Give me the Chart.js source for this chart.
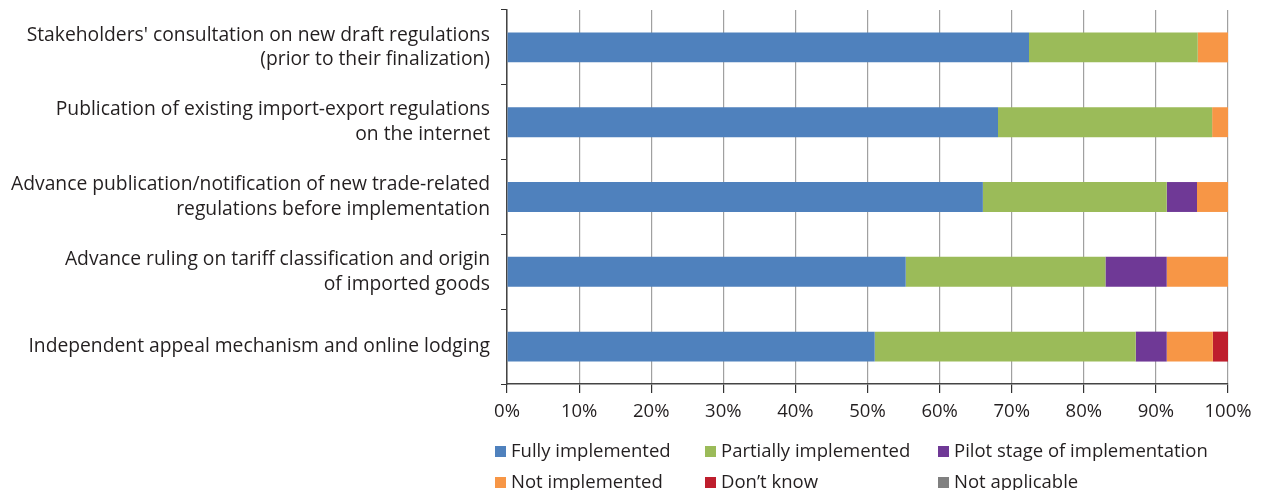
<!DOCTYPE html>
<html>
<head>
<meta charset="utf-8">
<script src="https://cdn.jsdelivr.net/npm/chart.js@4.4.1/dist/chart.umd.min.js"></script>
<style>
    html, body { margin: 0; padding: 0; background: #fff; }
    #wrap { position: relative; width: 1265px; height: 490px; }
    #legend { position: absolute; left: 0; top: 0; width: 1265px; height: 490px; pointer-events: none;
              font-family: "Open Sans", sans-serif; font-size: 18.5px; color: #231f20; }
    .item { position: absolute; white-space: nowrap; line-height: 20px; }
    .box { display: inline-block; width: 11px; height: 11px; margin-right: 5px; vertical-align: 0px; }
</style>
</head>
<body>
<div id="wrap">
    <canvas id="chart" width="1265" height="490"></canvas>
    <div id="legend"></div>
</div>
<script>
const categories = [
    ["Stakeholders' consultation on new draft regulations", "(prior to their finalization)"],
    ["Publication of existing import-export regulations", "on the internet"],
    ["Advance publication/notification of new trade-related", "regulations before implementation"],
    ["Advance ruling on tariff classification and origin", "of imported goods"],
    ["Independent appeal mechanism and online lodging"]
];

const seriesNames = ["Fully implemented", "Partially implemented", "Pilot stage of implementation",
                     "Not implemented", "Don\u2019t know", "Not applicable"];
const seriesColors = ["#4f81bd", "#9bbb59", "#6f3996", "#f79646", "#be1e2d", "#808080"];

const fullyImplemented     = [72.4, 68.1, 66.0, 55.3, 51.0];
const partiallyImplemented = [23.4, 29.7, 25.5, 27.7, 36.2];
const pilotStage           = [0,    0,    4.2,  8.5,  4.3];
const notImplemented       = [4.2,  2.2,  4.3,  8.5,  6.4];
const dontKnow             = [0,    0,    0,    0,    2.1];
const notApplicable        = [0,    0,    0,    0,    0];

const xTicks = [0, 10, 20, 30, 40, 50, 60, 70, 80, 90, 100];

const seriesData = [fullyImplemented, partiallyImplemented, pilotStage, notImplemented, dontKnow, notApplicable];

const FONT = '"Open Sans", sans-serif';

new Chart(document.getElementById("chart"), {
    type: 'bar',
    data: {
        labels: categories,
        datasets: seriesNames.map((name, i) => ({
            label: name,
            data: seriesData[i],
            backgroundColor: seriesColors[i],
            borderWidth: 0,
            categoryPercentage: 0.8,
            barPercentage: 0.5
        }))
    },
    options: {
        indexAxis: 'y',
        responsive: false,
        animation: false,
        layout: { padding: { top: 10, right: 37, left: 0, bottom: 0 } },
        plugins: {
            legend: { display: false },
            tooltip: { enabled: false }
        },
        scales: {
            x: {
                stacked: true,
                min: 0,
                max: 100,
                afterBuildTicks: scale => { scale.ticks = xTicks.map(v => ({ value: v })); },
                afterFit: scale => { scale.height = 106; scale.paddingLeft = 0; scale.paddingRight = 0; },
                ticks: {
                    callback: v => v + '%',
                    color: '#231f20',
                    font: { family: FONT, size: 18.5 },
                    padding: 8,
                    maxRotation: 0
                },
                grid: { color: '#a0a0a0', lineWidth: 1.2, tickLength: 9, tickColor: '#333' },
                border: { color: '#444', width: 1.5 }
            },
            y: {
                stacked: true,
                afterFit: scale => { scale.width = 507; scale.paddingTop = 0; scale.paddingBottom = 0; },
                ticks: {
                    color: '#231f20',
                    font: { family: FONT, size: 19.3, lineHeight: 1.27 },
                    padding: 11
                },
                grid: { drawOnChartArea: false, tickLength: 6, color: '#333', offset: true },
                border: { color: '#444', width: 1.5 }
            }
        }
    }
});

// legend laid out in the reference's 3-column grid
const legendPos = [[495, 440], [705, 440], [938, 440], [495, 471], [705, 471], [938, 471]];
const legendEl = document.getElementById("legend");
seriesNames.forEach((name, i) => {
    const div = document.createElement("div");
    div.className = "item";
    div.style.left = legendPos[i][0] + "px";
    div.style.top = legendPos[i][1] + "px";
    div.innerHTML = `<span class="box" style="background:${seriesColors[i]}"></span>${name}`;
    legendEl.appendChild(div);
});
</script>
</body>
</html>
